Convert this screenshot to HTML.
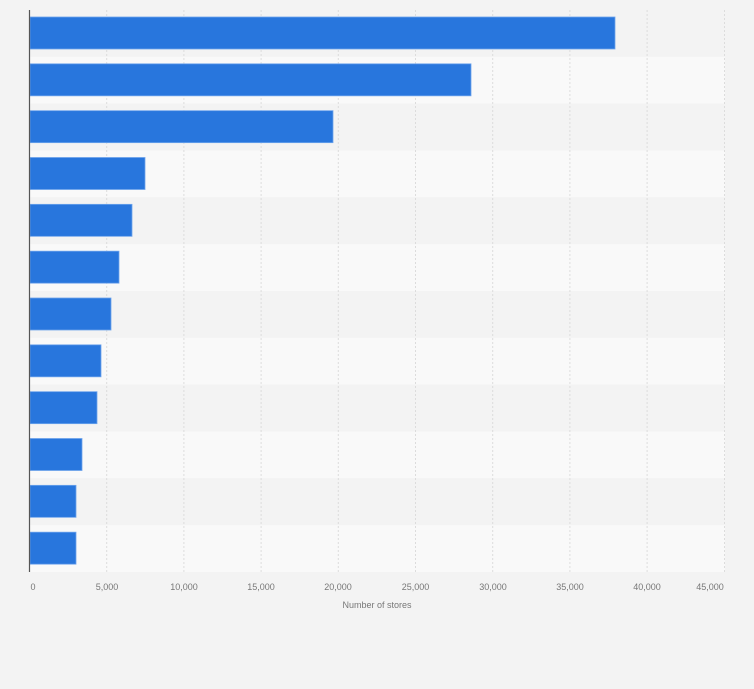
<!DOCTYPE html>
<html><head><style>
html,body{margin:0;padding:0;background:#f3f3f3;}
svg{display:block;font-family:"Liberation Sans",sans-serif;}
</style></head><body>
<svg width="754" height="689" viewBox="0 0 754 689" xmlns="http://www.w3.org/2000/svg">
<rect width="754" height="689" fill="#f3f3f3"/>
<g>
<rect x="30" y="10" width="695" height="46.83" fill="#f3f3f3"/>
<rect x="30" y="56.83" width="695" height="46.83" fill="#f9f9f9"/>
<rect x="30" y="103.67" width="695" height="46.83" fill="#f3f3f3"/>
<rect x="30" y="150.5" width="695" height="46.83" fill="#f9f9f9"/>
<rect x="30" y="197.33" width="695" height="46.83" fill="#f3f3f3"/>
<rect x="30" y="244.17" width="695" height="46.83" fill="#f9f9f9"/>
<rect x="30" y="291" width="695" height="46.83" fill="#f3f3f3"/>
<rect x="30" y="337.83" width="695" height="46.83" fill="#f9f9f9"/>
<rect x="30" y="384.67" width="695" height="46.83" fill="#f3f3f3"/>
<rect x="30" y="431.5" width="695" height="46.83" fill="#f9f9f9"/>
<rect x="30" y="478.33" width="695" height="46.83" fill="#f3f3f3"/>
<rect x="30" y="525.17" width="695" height="46.83" fill="#f9f9f9"/>
</g>
<g stroke="#dcdcdc" stroke-width="1" stroke-dasharray="2,2">
<line x1="106.7" y1="10" x2="106.7" y2="572"/>
<line x1="183.9" y1="10" x2="183.9" y2="572"/>
<line x1="261.1" y1="10" x2="261.1" y2="572"/>
<line x1="338.3" y1="10" x2="338.3" y2="572"/>
<line x1="415.5" y1="10" x2="415.5" y2="572"/>
<line x1="492.7" y1="10" x2="492.7" y2="572"/>
<line x1="569.9" y1="10" x2="569.9" y2="572"/>
<line x1="647.1" y1="10" x2="647.1" y2="572"/>
<line x1="724.5" y1="10" x2="724.5" y2="572"/>
</g>
<g fill="#2876dd" stroke="#6ea4ec" stroke-width="0.8">
<rect x="30" y="17" width="585" height="32"/>
<rect x="30" y="63.83" width="441" height="32"/>
<rect x="30" y="110.67" width="303" height="32"/>
<rect x="30" y="157.5" width="115" height="32"/>
<rect x="30" y="204.33" width="102" height="32"/>
<rect x="30" y="251.17" width="89" height="32"/>
<rect x="30" y="298" width="81" height="32"/>
<rect x="30" y="344.83" width="71" height="32"/>
<rect x="30" y="391.67" width="67" height="32"/>
<rect x="30" y="438.5" width="52" height="32"/>
<rect x="30" y="485.33" width="46" height="32"/>
<rect x="30" y="532.17" width="46" height="32"/>
</g>
<line x1="29.5" y1="10" x2="29.5" y2="572" stroke="#555" stroke-width="1.2"/>
<g font-size="9" fill="#777" text-anchor="middle">
<text x="33" y="590">0</text>
<text x="107" y="590">5,000</text>
<text x="184" y="590">10,000</text>
<text x="261" y="590">15,000</text>
<text x="338" y="590">20,000</text>
<text x="415.5" y="590">25,000</text>
<text x="493" y="590">30,000</text>
<text x="570" y="590">35,000</text>
<text x="647" y="590">40,000</text>
<text x="710" y="590">45,000</text>
<text x="377" y="608">Number of stores</text>
</g>
</svg>
</body></html>
